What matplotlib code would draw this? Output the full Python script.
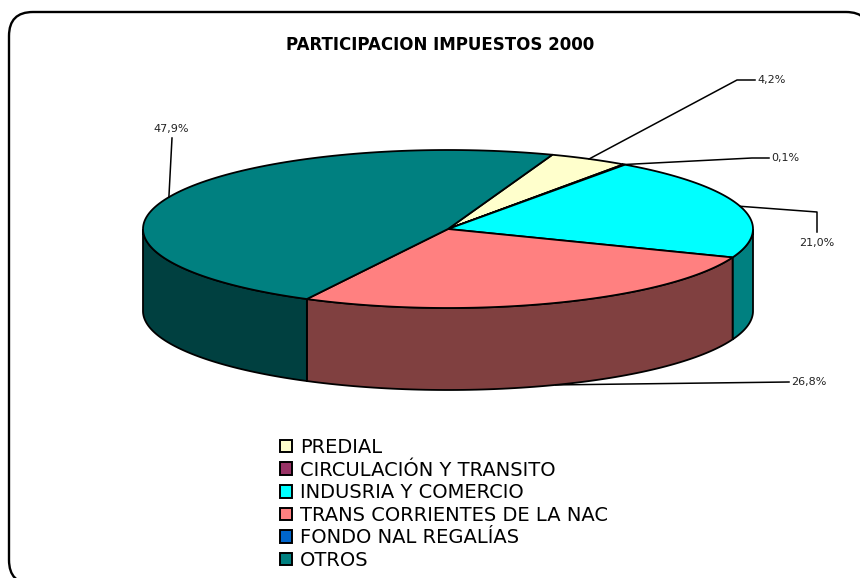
import numpy as np
import matplotlib.pyplot as plt
from matplotlib.patches import Polygon, FancyBboxPatch, Patch

# datos
categorias = ['PREDIAL', 'CIRCULACIÓN Y TRANSITO', 'INDUSRIA Y COMERCIO',
              'TRANS CORRIENTES DE LA NAC', 'FONDO NAL REGALÍAS', 'OTROS']
porcentajes = [4.2, 0.1, 21.0, 26.8, 0.0, 47.9]
etiquetas = ['4,2%', '0,1%', '21,0%', '26,8%', '', '47,9%']
colores = ['#FFFFCC', '#993366', '#00FFFF', '#FF8080', '#0066CC', '#008080']
colores_lado = ['#80806A', '#4D1A33', '#008080', '#804040', '#003366', '#004040']

# geometria del pastel 3D (pixeles)
cx, cy = 448, 229
rx, ry = 305, 79
alto = 82
giro = 20

# lineas guia: puntos despues del ancla, posicion del texto, alineacion
guias = {
    0: ([(737, 80), (755, 80)], (757, 80), 'left'),
    1: ([(752, 158), (769, 158)], (771, 158), 'left'),
    2: ([(817, 212), (817, 232)], (817, 243), 'center'),
    3: ([(789, 382)], (791, 382), 'left'),
    5: ([(172, 138)], (171, 129), 'center'),
}


def punto(t, dy=0):
    r = np.radians(t)
    return cx + rx * np.sin(r), cy - ry * np.cos(r) + dy


fig = plt.figure(figsize=(8.6, 5.78), dpi=100)
ax = fig.add_axes([0, 0, 1, 1])
ax.set_xlim(0, 860)
ax.set_ylim(578, 0)
ax.axis('off')

# marco redondeado
ax.add_patch(FancyBboxPatch((9, 12), 861, 572, boxstyle='round,pad=0,rounding_size=24',
                            fc='white', ec='black', lw=1.7, zorder=0))

ax.text(440, 45, 'PARTICIPACION IMPUESTOS 2000', ha='center', va='center',
        fontsize=12, fontweight='bold', family='DejaVu Sans')

angulos = [giro]
for p in porcentajes:
    angulos.append(angulos[-1] + p / 100 * 360)

# lados (solo la parte frontal)
for i in range(len(porcentajes)):
    a0 = max(angulos[i], 90)
    a1 = min(angulos[i + 1], 270)
    if a1 <= a0:
        continue
    t = np.linspace(a0, a1, 80)
    arriba = [punto(k) for k in t]
    abajo = [punto(k, alto) for k in t[::-1]]
    ax.add_patch(Polygon(arriba + abajo, closed=True, fc=colores_lado[i], ec='black', lw=1.3, zorder=2))

# caras superiores
for i in range(len(porcentajes)):
    if porcentajes[i] == 0:
        continue
    t = np.linspace(angulos[i], angulos[i + 1], 120)
    pts = [(cx, cy)] + [punto(k) for k in t]
    ax.add_patch(Polygon(pts, closed=True, fc=colores[i], ec='black', lw=1.3, zorder=3))

# etiquetas con lineas guia
for i, (camino, txt, ha) in guias.items():
    medio = (angulos[i] + angulos[i + 1]) / 2
    if 90 < medio < 270:
        ancla = punto(medio, alto)
    else:
        ancla = punto(medio)
    pts = [ancla] + camino
    ax.plot([p[0] for p in pts], [p[1] for p in pts], color='black', lw=1.1, zorder=4)
    ax.text(txt[0], txt[1], etiquetas[i], ha=ha, va='center', fontsize=8, color='#222222')

handles = [Patch(fc=c, ec='black', lw=1.4) for c in colores]
ax.legend(handles, categorias, loc='upper left', bbox_to_anchor=(280 / 860, 1 - 438 / 578),
          frameon=False, fontsize=14, handlelength=0.62, handleheight=0.62,
          handletextpad=0.4, labelspacing=0.185, borderpad=0, borderaxespad=0)

plt.savefig('out.png', dpi=100)
